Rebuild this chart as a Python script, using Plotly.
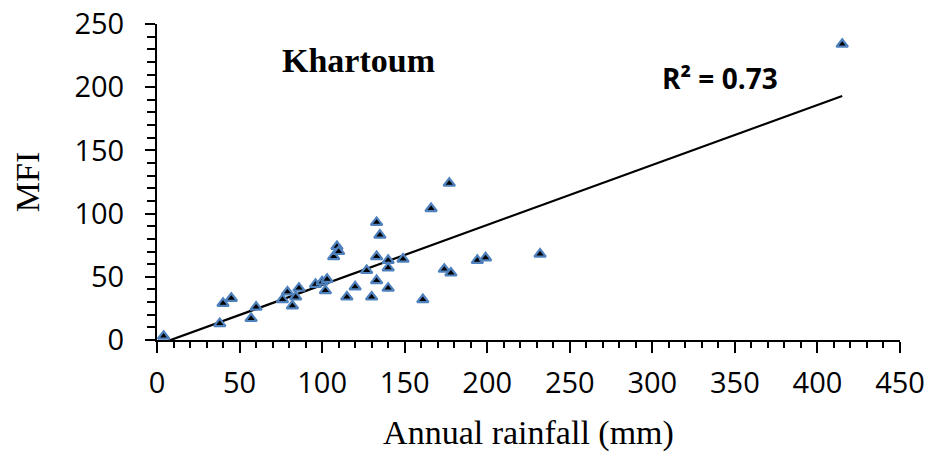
import numpy as np
import plotly.graph_objects as go

rainfall = [4, 38, 40, 45, 57, 60, 76, 79, 82, 84, 86, 96, 100, 103, 102, 107, 109, 110,
            115, 120, 127, 130, 133, 133, 133, 135, 140, 140, 140, 149, 161, 166, 174,
            177, 178, 194, 199, 232, 415]
mfi = [3, 13, 29, 33, 17, 26, 32, 38, 27, 34, 41, 44, 46, 48, 39, 66, 74, 70,
       34, 42, 55, 34, 93, 66, 47, 83, 63, 57, 41, 64, 32, 104, 56,
       124, 53, 63, 65, 68, 234]
x_ticks = [0, 50, 100, 150, 200, 250, 300, 350, 400, 450]
y_ticks = [0, 50, 100, 150, 200, 250]
r2_label = "R² = 0.73"
station = "Khartoum"

x = np.array(rainfall, dtype=float)
y = np.array(mfi, dtype=float)
slope, intercept = np.polyfit(x, y, 1)
line_x = np.array([x.min(), x.max()])
line_y = slope * line_x + intercept

fig = go.Figure()
fig.add_trace(go.Scatter(
    x=line_x, y=line_y, mode="lines",
    line=dict(color="black", width=2.2), showlegend=False, hoverinfo="skip"))
fig.add_trace(go.Scatter(
    x=rainfall, y=mfi, mode="markers",
    marker=dict(symbol="triangle-up", size=10, color="black",
                line=dict(color="#4F81BD", width=2.2)),
    showlegend=False, cliponaxis=False))

fig.add_annotation(x=122, y=221, xref="x", yref="y", text="<b>" + station + "</b>",
                   showarrow=False, font=dict(family="Liberation Serif", size=34, color="black"))
fig.add_annotation(x=341, y=207, xref="x", yref="y", text="<b>" + r2_label + "</b>",
                   showarrow=False, font=dict(family="Open Sans", size=28, color="black"))

fig.update_layout(
    width=928, height=474,
    margin=dict(l=157, r=28, t=24, b=134, autoexpand=False),
    paper_bgcolor="white", plot_bgcolor="white",
    font=dict(family="Open Sans", color="black"),
)
fig.update_xaxes(
    range=[0, 450], tickvals=x_ticks, ticktext=[str(v) for v in x_ticks],
    showgrid=False, zeroline=False, showline=True, linecolor="black", linewidth=2,
    ticks="outside", ticklen=11, tickwidth=2, tickcolor="black",
    minor=dict(dtick=10, tick0=0, ticks="outside", ticklen=6, tickwidth=1.5, tickcolor="black"),
    tickfont=dict(family="Open Sans", size=29, color="black"),
    ticklabelstandoff=5, automargin=False, ticklabeloverflow="allow",
    title=dict(text="Annual rainfall (mm)", font=dict(family="Liberation Serif", size=34, color="black"),
               standoff=20),
)
fig.update_yaxes(
    range=[0, 250], tickvals=y_ticks, ticktext=[str(v) for v in y_ticks],
    showgrid=False, zeroline=False, showline=True, linecolor="black", linewidth=2,
    ticks="outside", ticklen=10, tickwidth=2, tickcolor="black",
    minor=dict(dtick=10, tick0=0, ticks="outside", ticklen=8, tickwidth=1.5, tickcolor="black"),
    tickfont=dict(family="Open Sans", size=29, color="black"),
    ticklabelstandoff=15, automargin=False, ticklabeloverflow="allow",
    title=dict(text="MFI", font=dict(family="Liberation Serif", size=34, color="black"), standoff=25),
)

fig.write_html("out.html",
               config={"displayModeBar": False},
               post_script="document.body.style.margin='0';document.body.style.overflow='hidden';")
